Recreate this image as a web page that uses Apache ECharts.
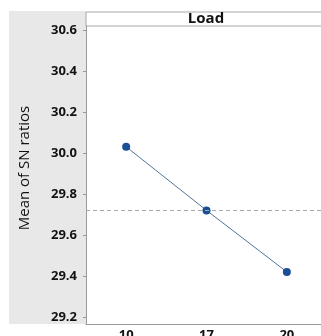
<!DOCTYPE html>
<html><head><meta charset="utf-8">
<script src="https://cdn.jsdelivr.net/npm/echarts@6/dist/echarts.min.js"></script>
<style>html,body{margin:0;padding:0;background:#fff}#c{width:321px;height:336px}</style>
</head><body><div id="c"></div>
<script>
const categories = ['10', '17', '20'];
const snMeans = [30.03, 29.72, 29.42];
const yTicks = [29.2, 29.4, 29.6, 29.8, 30.0, 30.2, 30.4, 30.6];
const panelTitle = 'Load';
const yName = 'Mean of SN ratios';

const chart = echarts.init(document.getElementById('c'), null, {renderer: 'canvas'});
const gridL = 86, gridT = 26, gridB = 12, gridR = -6;
chart.setOption({
  animation: false,
  graphic: [
    {type: 'rect', z: -10, shape: {x: 9, y: 11, width: 77, height: 313}, style: {fill: '#e8e8e8'}},
    {type: 'rect', z: 0, shape: {x: 86, y: 12, width: 240, height: 14}, style: {fill: '#fff', stroke: '#a8a8a8', lineWidth: 1}},
    {type: 'text', z: 5, x: 206, y: 19, style: {text: panelTitle, fill: '#111', font: 'bold 15px "Open Sans", sans-serif', align: 'center', verticalAlign: 'middle'}},
    {type: 'text', z: 5, x: 25, y: 168, rotation: Math.PI / 2, style: {text: yName, fill: '#111', font: '15px "Open Sans", sans-serif', align: 'center', verticalAlign: 'middle'}}
  ],
  grid: {left: gridL, top: gridT, right: gridR, bottom: gridB, containLabel: false, outerBoundsMode: 'none'},
  xAxis: {
    type: 'category', data: categories, boundaryGap: true,
    axisLine: {lineStyle: {color: '#999'}},
    axisTick: {alignWithLabel: true, length: 3, lineStyle: {color: '#999'}},
    axisLabel: {margin: 5, color: '#111', fontWeight: 'bold', fontSize: 13, fontFamily: '"Open Sans", sans-serif'}
  },
  yAxis: {
    type: 'value', min: 29.166, max: 30.619,
    axisLine: {show: true, lineStyle: {color: '#999'}},
    axisTick: {show: true, length: 3, lineStyle: {color: '#999'}, customValues: yTicks},
    splitLine: {show: false},
    axisLabel: {margin: 9, color: '#111', fontWeight: 'bold', fontSize: 13, fontFamily: '"Open Sans", sans-serif',
      customValues: yTicks, formatter: v => v.toFixed(1)}
  },
  series: [{
    type: 'line', data: snMeans, symbol: 'circle', symbolSize: 8,
    lineStyle: {color: '#4f7399', width: 1},
    itemStyle: {color: '#1a4f96'},
    markLine: {
      silent: true, symbol: 'none', label: {show: false},
      lineStyle: {color: '#aaa', type: [4, 3], width: 1},
      data: [{type: 'average'}]
    }
  }]
});
</script></body></html>
